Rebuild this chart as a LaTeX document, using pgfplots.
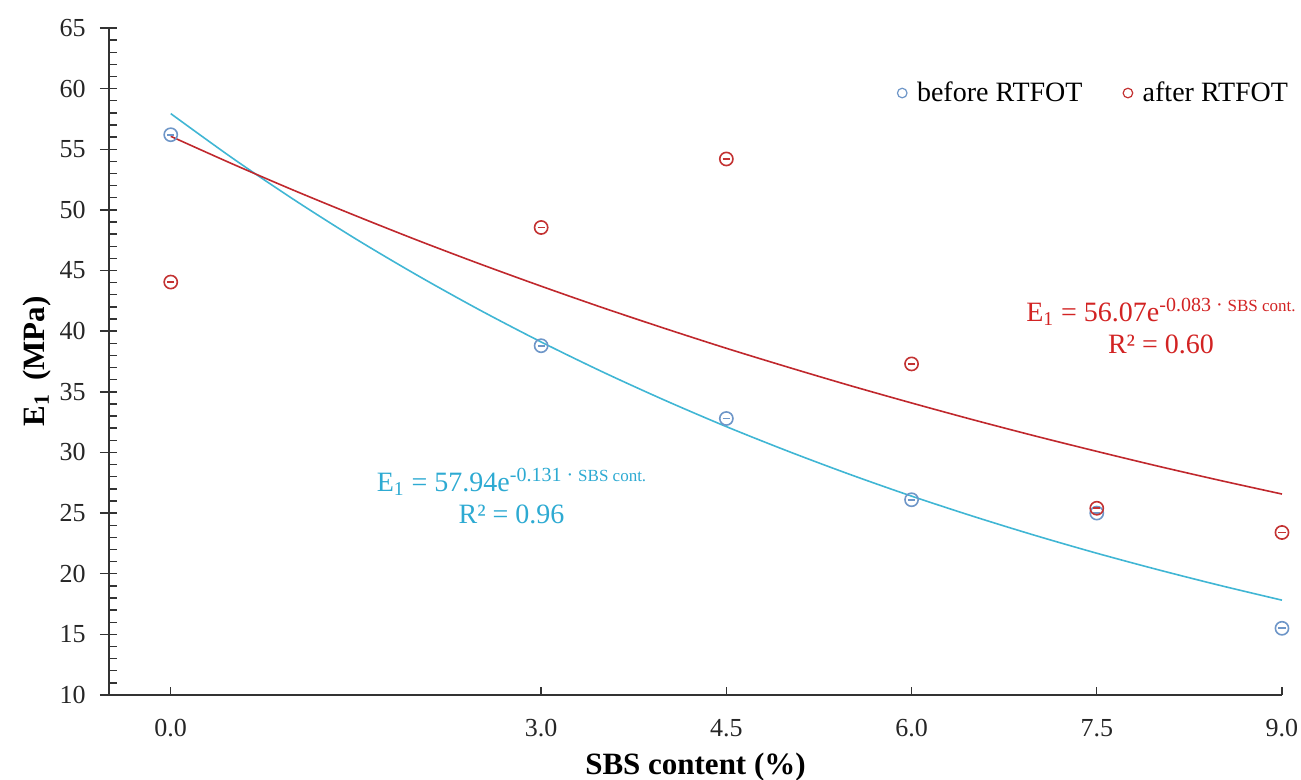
\documentclass[border=0pt]{standalone}
\usepackage{pgfplots}
\pgfplotsset{compat=1.18}
\usepackage{fontspec}
\setmainfont{Liberation Serif}
\definecolor{bluemark}{RGB}{110,150,200}
\definecolor{redmark}{RGB}{195,50,50}
\definecolor{bluefit}{RGB}{64,182,212}
\definecolor{redfit}{RGB}{192,40,45}
\definecolor{bluetext}{RGB}{45,170,210}
\definecolor{redtext}{RGB}{210,35,35}
\pgfdeclareplotmark{ominus}{%
  \pgfpathcircle{\pgfpointorigin}{\pgfplotmarksize}\pgfusepathqstroke
  \pgfpathmoveto{\pgfpoint{-0.55\pgfplotmarksize}{0pt}}%
  \pgfpathlineto{\pgfpoint{0.55\pgfplotmarksize}{0pt}}\pgfusepathqstroke}
\begin{document}
\begin{tikzpicture}
\begin{axis}[
  scale only axis, width=586.5pt, height=333.5pt,
  xmin=-0.5, xmax=9, ymin=10, ymax=65,
  clip=false,
  axis lines*=left,
  axis line style={black!80, line width=0.8pt},
  every tick/.style={black!80, line width=0.7pt},
  xtick={0,3,4.5,6,7.5,9},
  xticklabels={0.0,3.0,4.5,6.0,7.5,9.0},
  ytick={10,15,...,65},
  minor y tick num=4,
  tick align=inside,
  major tick length=4pt, minor tick length=4pt,
  extra y ticks={10,15,...,65},
  extra y tick labels={},
  extra y tick style={tick align=outside, major tick length=4.5pt},
  /pgf/number format/assume math mode=true,
  ticklabel style={font=\fontsize{13}{14}\selectfont, black!85},
  xticklabel style={anchor=base, yshift=-21pt},
  yticklabel style={anchor=east, inner sep=0pt, xshift=-11.5pt},
  xlabel={\textbf{SBS content (\%)}},
  ylabel={\textbf{E\textsubscript{1}\, (MPa)}},
  label style={font=\fontsize{15.5}{17}\selectfont},
  xlabel style={at={(axis description cs:0.5,0)}, anchor=center, yshift=-36pt},
  ylabel style={at={([xshift=-36pt]axis description cs:0,0.5)}, anchor=center},
  legend style={at={(rel axis cs:1.014,0.9025)}, anchor=east, draw=none, fill=none,
    font=\fontsize{14}{16}\selectfont, legend columns=2,
    /tikz/every even column/.append style={column sep=18pt}},
  legend cell align=left,
]
% fitted curves (values of the shown exponential fits)
\addplot[bluefit, line width=0.8pt, smooth, forget plot] coordinates {
 (0,57.94) (0.5,54.27) (1,50.83) (1.5,47.60) (2,44.59) (2.5,41.76) (3,39.11)
 (3.5,36.63) (4,34.31) (4.5,32.13) (5,30.10) (5.5,28.19) (6,26.40) (6.5,24.73)
 (7,23.16) (7.5,21.69) (8,20.32) (8.5,19.03) (9,17.82)};
\addplot[redfit, line width=0.8pt, smooth, forget plot] coordinates {
 (0,56.07) (0.5,53.79) (1,51.60) (1.5,49.51) (2,47.49) (2.5,45.56) (3,43.71)
 (3.5,41.93) (4,40.23) (4.5,38.59) (5,37.03) (5.5,35.52) (6,34.08) (6.5,32.69)
 (7,31.36) (7.5,30.09) (8,28.86) (8.5,27.69) (9,26.57)};
% data
\addplot[only marks, mark=ominus, mark size=3.3pt, bluemark, line width=0.8pt,
  legend image code/.code={\draw[bluemark, line width=0.6pt] (0pt,0pt) circle (2.4pt); \path (5pt,0pt);}]
 coordinates {(0,56.2) (3,38.8) (4.5,32.8) (6,26.1) (7.5,25.0) (9,15.5)};
\addlegendentry{before RTFOT}
\addplot[only marks, mark=ominus, mark size=3.3pt, redmark, line width=0.8pt,
  legend image code/.code={\draw[redmark, line width=0.6pt] (0pt,0pt) circle (2.4pt); \path (5pt,0pt);}]
 coordinates {(0,44.05) (3,48.55) (4.5,54.2) (6,37.3) (7.5,25.4) (9,23.4)};
\addlegendentry{after RTFOT}
\node[align=center, text=redtext, font=\fontsize{14}{16}\selectfont] at (axis cs:8.02,40.43)
 {E\textsubscript{1} = 56.07e\raisebox{5pt}{\fontsize{10}{11}\selectfont -0.083 · \fontsize{8.5}{9}\selectfont SBS cont.}\\R² = 0.60};
\node[align=center, text=bluetext, font=\fontsize{14}{16}\selectfont] at (axis cs:2.76,26.41)
 {E\textsubscript{1} = 57.94e\raisebox{5pt}{\fontsize{10}{11}\selectfont -0.131 · \fontsize{8.5}{9}\selectfont SBS cont.}\\R² = 0.96};
\end{axis}
\pgfresetboundingbox
\path (current axis.south west) ++(-54.5pt,-42.5pt) rectangle ++(650.5pt,390pt);
\end{tikzpicture}
\end{document}
